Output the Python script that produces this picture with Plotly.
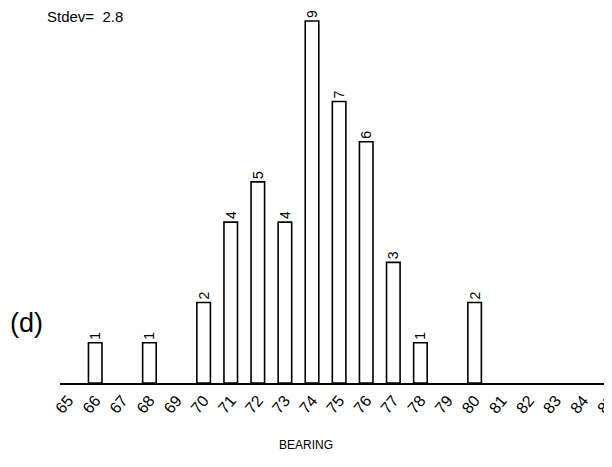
import plotly.graph_objects as go

bearings = [66, 68, 70, 71, 72, 73, 74, 75, 76, 77, 78, 80]
counts = [1, 1, 2, 4, 5, 4, 9, 7, 6, 3, 1, 2]
tick_values = list(range(65, 86))
tick_labels = [str(v) for v in tick_values]
mean_text = "Mean=  73.9"
stdev_text = "Stdev=  2.8"
panel_label = "(d)"
x_title = "BEARING"

FONT = "Liberation Sans, Arial, sans-serif"

fig = go.Figure()
fig.add_trace(go.Bar(
    x=bearings, y=counts, width=0.5,
    marker=dict(color="white", line=dict(color="black", width=1.6)),
    text=[str(c) for c in counts], textposition="outside", textangle=-90,
    textfont=dict(family=FONT, size=14, color="black"),
    cliponaxis=False,
))

# figure is offset by the page's 8px body margin
OFF = 8
L, PW, BASE = 60 - OFF, 552, 383 - OFF
YTOP = 9.2
PH = round(YTOP * 40.2)
T = BASE - PH
W, H = 612 - OFF, 467 - OFF


def px(x):
    return (x - OFF - L) / PW


def py(y):
    return (BASE - (y - OFF)) / PH


fig.update_layout(
    width=W, height=H,
    margin=dict(l=L, r=W - L - PW, t=T, b=H - BASE, autoexpand=False),
    paper_bgcolor="white", plot_bgcolor="white",
    showlegend=False,
    xaxis=dict(range=[64.7, 85.07], tickmode="array", tickvals=tick_values,
               ticktext=tick_labels, tickangle=-50, showgrid=False,
               zeroline=False, showline=True, linecolor="black", linewidth=1.6,
               ticks="", automargin=False, ticklabeloverflow="allow",
               tickfont=dict(family=FONT, size=16, color="black")),
    yaxis=dict(range=[0, YTOP], visible=False, automargin=False),
    annotations=[
        dict(text=panel_label, xref="paper", yref="paper", x=px(8), y=py(323),
             xanchor="left", yanchor="middle", showarrow=False,
             font=dict(family=FONT, size=27, color="black")),
        dict(text=stdev_text, xref="paper", yref="paper", x=px(45), y=py(16),
             xanchor="left", yanchor="middle", showarrow=False,
             font=dict(family=FONT, size=15, color="black")),
        dict(text=mean_text, xref="paper", yref="paper", x=px(45), y=py(-3),
             xanchor="left", yanchor="middle", showarrow=False,
             font=dict(family=FONT, size=15, color="black")),
        dict(text=x_title, xref="paper", yref="paper", x=px(306), y=py(445),
             xanchor="center", yanchor="middle", showarrow=False,
             font=dict(family=FONT, size=12, color="black")),
    ],
)

fig.write_html("out.html")
